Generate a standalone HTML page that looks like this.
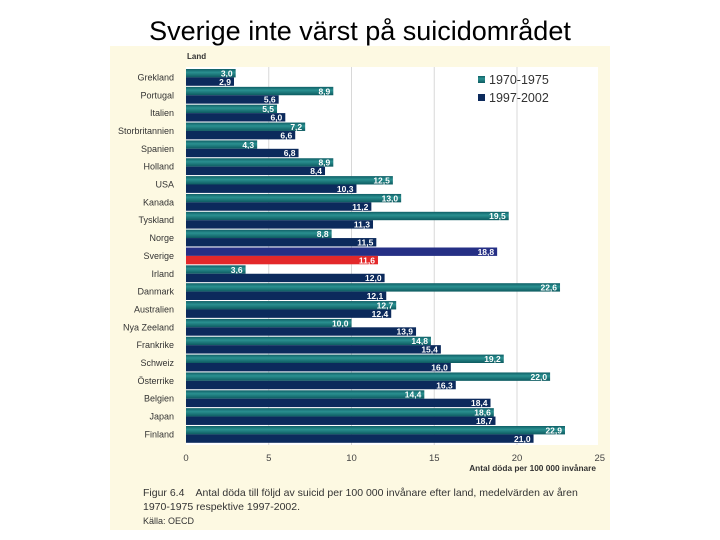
<!DOCTYPE html>
<html><head><meta charset="utf-8"><style>
body{margin:0;width:720px;height:540px;background:#fff;position:relative;overflow:hidden;font-family:"Liberation Sans",sans-serif}
#title{position:absolute;left:0;width:720px;top:16px;text-align:center;font-size:27px;color:#000}
#panel{position:absolute;left:110px;top:46px;width:500px;height:484px;background:#fdf9e2}
#cap{position:absolute;left:143px;top:486px;font-size:10.5px;color:#333;line-height:14px}
</style></head><body>
<div id="title">Sverige inte värst på suicidområdet</div>
<div id="panel"></div>
<svg id="chart" width="720" height="540" style="position:absolute;left:0;top:0"></svg>
<div id="cap">Figur 6.4&nbsp;&nbsp;&nbsp; Antal döda till följd av suicid per 100 000 invånare efter land, medelvärden av åren<br>1970-1975 respektive 1997-2002.<br><span style="font-size:9px">Källa: OECD</span></div>
<script>
const countries=["Grekland","Portugal","Italien","Storbritannien","Spanien","Holland","USA","Kanada","Tyskland","Norge","Sverige","Irland","Danmark","Australien","Nya Zeeland","Frankrike","Schweiz","Österrike","Belgien","Japan","Finland"];
const series1970=[3.0,8.9,5.5,7.2,4.3,8.9,12.5,13.0,19.5,8.8,18.8,3.6,22.6,12.7,10.0,14.8,19.2,22.0,14.4,18.6,22.9];
const series1997=[2.9,5.6,6.0,6.6,6.8,8.4,10.3,11.2,11.3,11.5,11.6,12.0,12.1,12.4,13.9,15.4,16.0,16.3,18.4,18.7,21.0];
const ticks=[0,5,10,15,20,25];
const NS="http://www.w3.org/2000/svg";
const svg=document.getElementById('chart');
const X0=186,SC=16.55,TOP=69,PITCH=17.85,BH=8.4;
const xs=v=>X0+v*SC;
function mk(t,a){const e=document.createElementNS(NS,t);for(const k in a)e.setAttribute(k,a[k]);svg.appendChild(e);return e;}
const defs=mk('defs',{});
defs.innerHTML='<linearGradient id="tg" x1="0" y1="0" x2="0" y2="1"><stop offset="0" stop-color="#0f5f66"/><stop offset="0.4" stop-color="#2a9090"/><stop offset="1" stop-color="#0d5a60"/></linearGradient>';
const bg=mk('rect',{x:186,y:67,width:412,height:378,fill:'#fff'});


ticks.forEach(t=>{
 if(t>0&&t<25){const g=mk('line',{x1:xs(t),x2:xs(t),y1:67,y2:445,stroke:'#d8d8d8','stroke-width':1});
 
 }
 const l=mk('text',{x:xs(t),y:461,'text-anchor':'middle','font-size':9.5,fill:'#444'});l.textContent=t;
 
 
});
const xt=mk('text',{x:596,y:471,'text-anchor':'end','font-size':8.3,'font-weight':'bold',fill:'#333'});xt.textContent='Antal döda per 100 000 invånare';


const yt=mk('text',{x:187,y:59,'font-size':8,'font-weight':'bold',fill:'#333'});yt.textContent='Land';


countries.forEach((c,i)=>{
 const y=TOP+i*PITCH;const sv=c==="Sverige";
 const lb=mk('text',{x:174,y:y+BH+3,'text-anchor':'end','font-size':9,fill:'#333'});lb.textContent=c;
 
 
 [[series1970[i],y,sv?'#252f85':'url(#tg)'],[series1997[i],y+BH,sv?'#e3282a':'#0c2a5c']].forEach(([v,yy,f])=>{
  const r=mk('rect',{x:X0,y:yy,width:v*SC,height:BH,fill:f});
  
  
  const t=mk('text',{x:xs(v)-3,y:yy+BH-1,'text-anchor':'end','font-size':8.5,'font-weight':'bold',fill:'#fff'});t.textContent=v.toFixed(1).replace('.',',');
  
  
 });
});
[['url(#tg)','1970-1975',76],['#0c2a5c','1997-2002',94]].forEach(([f,n,y])=>{
 const r=mk('rect',{x:478,y:y,width:7,height:7,fill:f});
 
 
 const t=mk('text',{x:489,y:y+8,'font-size':12.5,fill:'#333'});t.textContent=n;
 
 
});
</script>
</body></html>
